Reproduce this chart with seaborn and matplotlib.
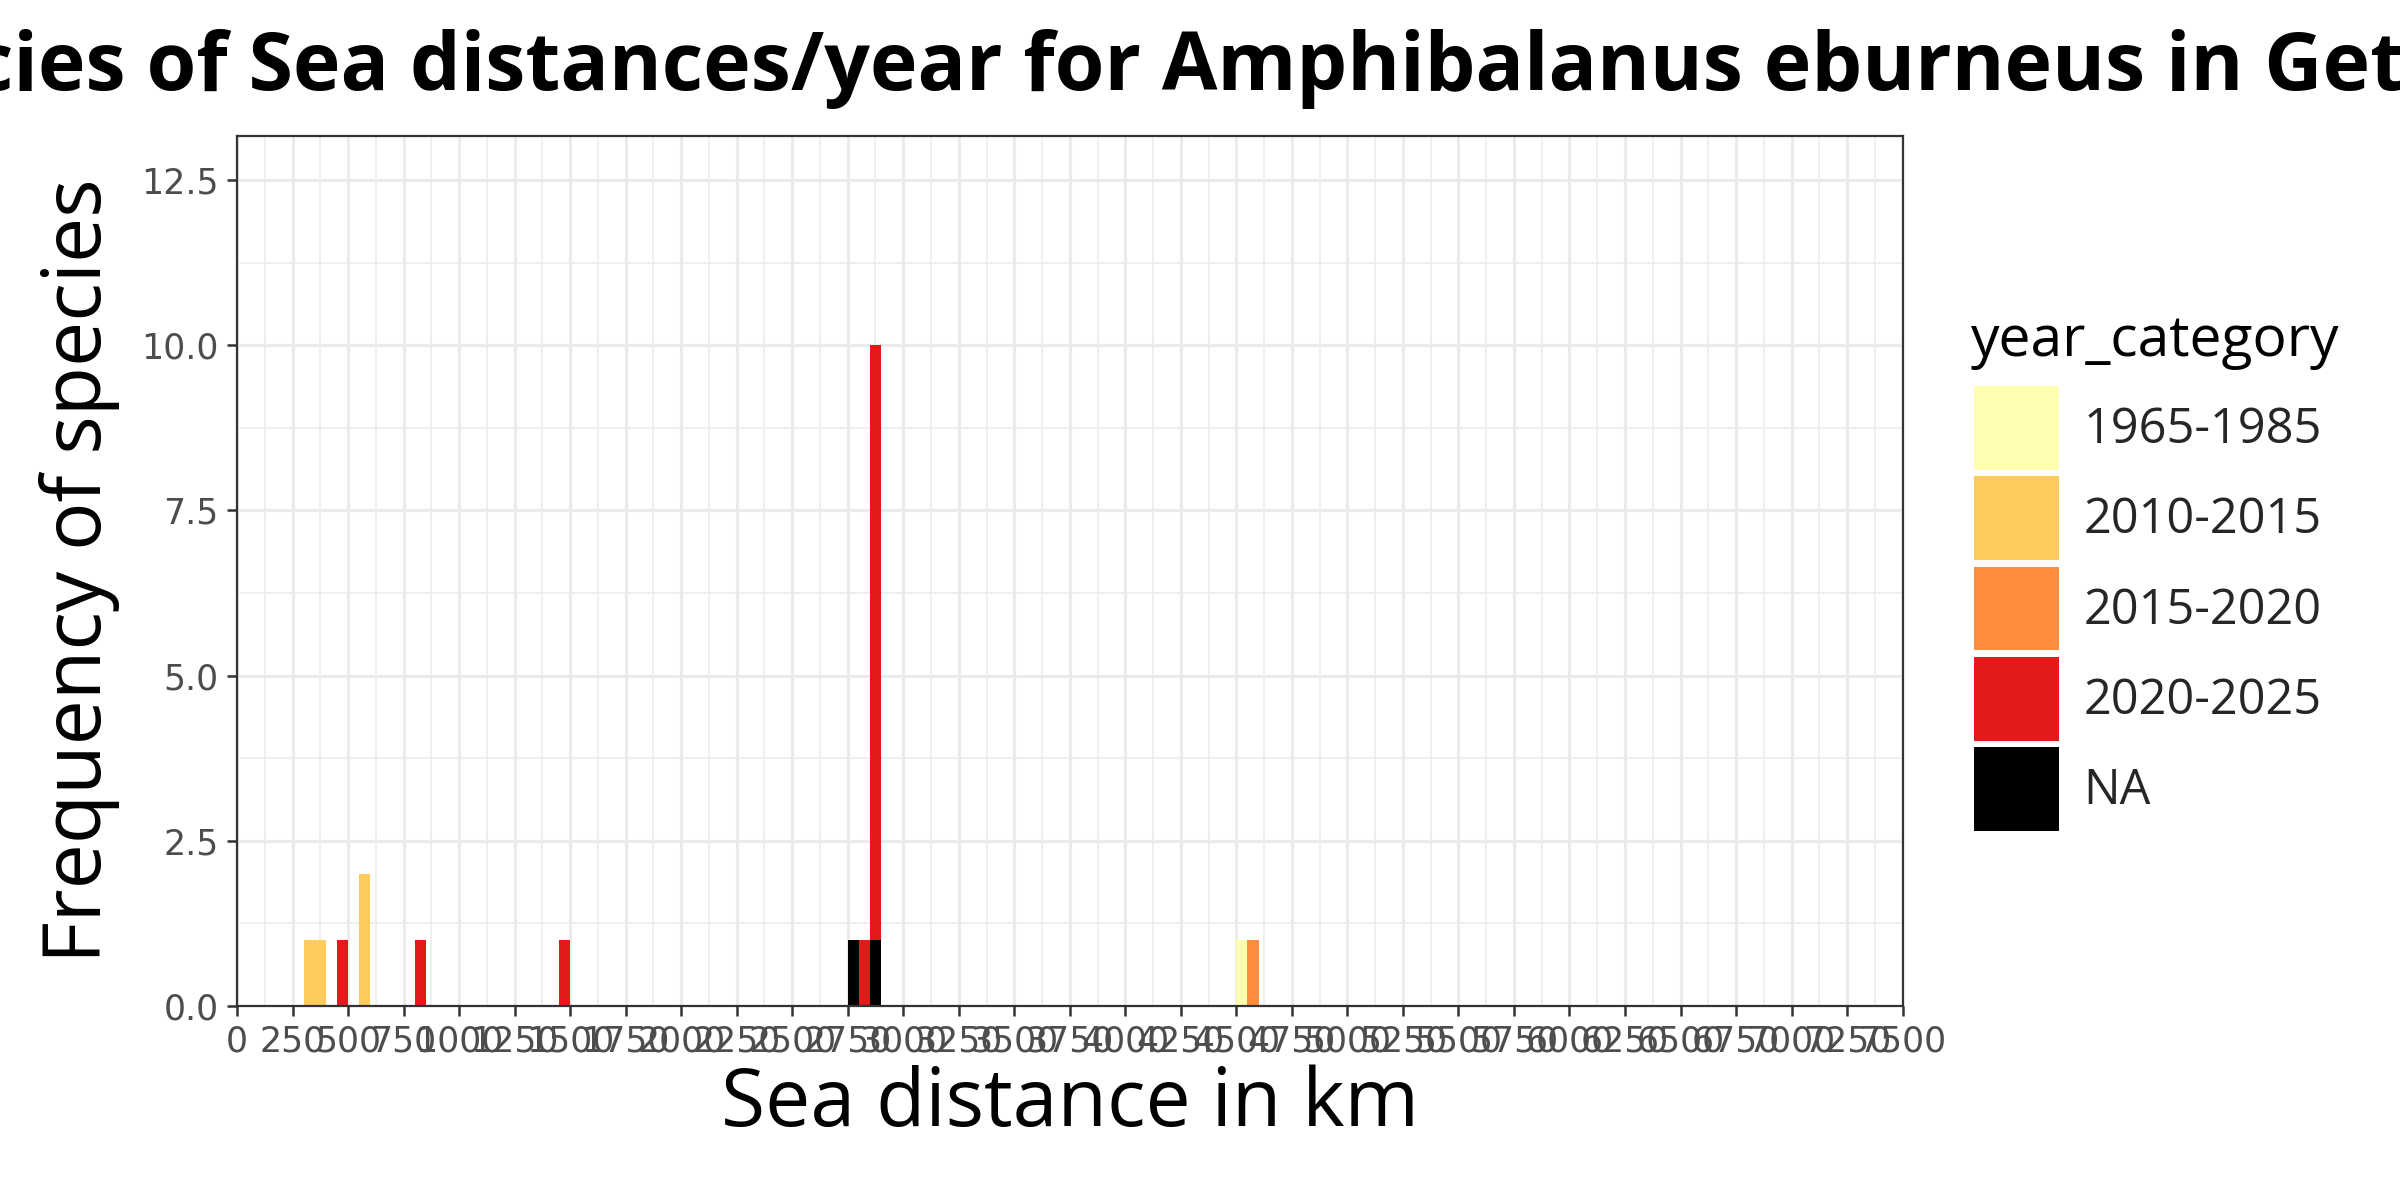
import pandas as pd
import seaborn as sns
import matplotlib.pyplot as plt
from matplotlib.patches import Patch
from matplotlib.ticker import MultipleLocator, FormatStrFormatter

dist_1965_1985 = [4520]
dist_2010_2015 = [320, 380, 565, 590]
dist_2015_2020 = [4570]
dist_2020_2025 = [470, 825, 1475, 2815,
                  2853, 2856, 2861, 2864, 2868, 2872, 2877, 2883, 2890]
dist_na = [2775, 2880]

categories = ['1965-1985', '2010-2015', '2015-2020', '2020-2025', 'NA']
colors = ['#FFFFB2', '#FECC5C', '#FD8D3C', '#E31A1C', '#000000']

x_ticks = list(range(0, 7501, 250))
y_ticks = [0, 2.5, 5, 7.5, 10, 12.5]

groups = [dist_1965_1985, dist_2010_2015, dist_2015_2020, dist_2020_2025, dist_na]
df = pd.concat([pd.DataFrame({'sea_distance': g, 'year_category': c})
                for g, c in zip(groups, categories)], ignore_index=True)
palette = dict(zip(categories, colors))

sns.set_theme(style='white')
plt.rcParams['font.family'] = ['Open Sans', 'DejaVu Sans']

fig = plt.figure(figsize=(12, 6), dpi=200)
ax = fig.add_axes([237 / 2400, 1 - 1005.8 / 1200, 1665.6 / 2400, 869.8 / 1200])

sns.histplot(data=df, x='sea_distance', hue='year_category', hue_order=categories,
             palette=palette, multiple='stack', binwidth=50, binrange=(0, 7500),
             linewidth=0, alpha=1, legend=False, ax=ax)

ax.set_xlim(0, 7500)
ax.set_ylim(0, 13.17)
ax.set_xticks(x_ticks)
ax.set_xticklabels([str(t) for t in x_ticks])
ax.set_yticks(y_ticks)
ax.yaxis.set_major_formatter(FormatStrFormatter('%.1f'))
ax.xaxis.set_minor_locator(MultipleLocator(125))
ax.yaxis.set_minor_locator(MultipleLocator(1.25))

ax.set_axisbelow(True)
ax.grid(which='major', color='#EBEBEB', linewidth=1.1)
ax.grid(which='minor', color='#EBEBEB', linewidth=0.55)
for s in ax.spines.values():
    s.set_visible(True)
    s.set_color('#333333')
    s.set_linewidth(0.8)

ax.tick_params(which='major', length=3.6, width=0.9, color='#333333',
               labelcolor='#4D4D4D', labelsize=12.5, pad=3, bottom=True, left=True)
ax.tick_params(which='minor', length=0)
for lab in ax.get_xticklabels() + ax.get_yticklabels():
    lab.set_fontfamily('DejaVu Sans')

ax.set_xlabel('Sea distance in km', fontsize=29, color='black')
ax.set_ylabel('Frequency of species', fontsize=29, color='black')
ax.xaxis.set_label_coords(0.5, -0.114)
ax.xaxis.label.set_va('center')
ax.yaxis.set_label_coords(-0.0943, 0.5)
ax.yaxis.label.set_va('center')

fig.text(1070 / 2400, 1 - 69 / 1200,
         'Frequencies of Sea distances/year for Amphibalanus eburneus in Getxo',
         ha='center', va='center', fontsize=29, fontweight='bold', color='black')

# legend title drawn separately to get the ggplot spacing
fig.text(1971 / 2400, 1 - 341 / 1200, 'year_category', ha='left', va='center',
         fontsize=20.5, color='black')
handles = [Patch(facecolor=c, edgecolor='none') for c in colors]
leg = fig.legend(handles, categories, loc='upper left',
                 bbox_to_anchor=(1974 / 2400, 1 - 386 / 1200), frameon=False,
                 fontsize=17.5, handlelength=1.75, handleheight=2.28,
                 handletextpad=0.5, labelspacing=0.13, borderpad=0, borderaxespad=0)

fig.savefig('out.png', dpi=200)
